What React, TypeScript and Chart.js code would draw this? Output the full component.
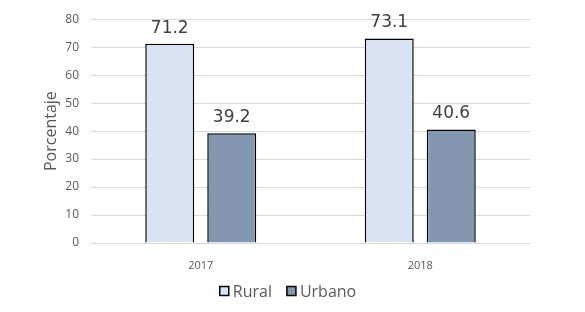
import React, { useEffect, useRef } from "react";
import { Chart, registerables } from "chart.js";

Chart.register(...registerables);

const categories = ["2017", "2018"];
const ruralValues = [71.2, 73.1];
const urbanoValues = [39.2, 40.6];
const seriesNames = ["Rural", "Urbano"];
const seriesColors = ["#DAE3F3", "#8497B0"];
const yTicks = [0, 10, 20, 30, 40, 50, 60, 70, 80];

const valueLabels = {
  id: "valueLabels",
  afterDatasetsDraw(chart: any) {
    const ctx = chart.ctx;
    ctx.save();
    ctx.font = "17px 'DejaVu Sans'";
    ctx.fillStyle = "#404040";
    ctx.textAlign = "center";
    ctx.textBaseline = "bottom";
    chart.data.datasets.forEach((ds: any, i: number) => {
      const meta = chart.getDatasetMeta(i);
      meta.data.forEach((bar: any, j: number) => {
        ctx.fillText(ds.data[j].toFixed(1), bar.x, bar.y - 7);
      });
    });
    ctx.restore();
  },
};

const customLegend = {
  id: "customLegend",
  afterDraw(chart: any) {
    const ctx = chart.ctx;
    ctx.save();
    ctx.font = "16px 'Open Sans'";
    ctx.textBaseline = "middle";
    ctx.textAlign = "left";
    const box = 9;
    const gapText = 4;
    const gapItem = 15;
    const ds = chart.data.datasets;
    const widths = ds.map((d: any) => box + gapText + ctx.measureText(d.label).width);
    const total = widths.reduce((a: number, b: number) => a + b, 0) + gapItem * (ds.length - 1);
    let x = 288 - total / 2;
    const cy = 291;
    ds.forEach((d: any, i: number) => {
      ctx.fillStyle = d.backgroundColor;
      ctx.fillRect(x, cy - box / 2, box, box);
      ctx.strokeStyle = "#000";
      ctx.lineWidth = 1.5;
      ctx.strokeRect(x, cy - box / 2, box, box);
      ctx.fillStyle = "#595959";
      ctx.fillText(d.label, x + box + gapText, cy + 1);
      x += widths[i] + gapItem;
    });
    ctx.restore();
  },
};

export default function App() {
  const ref = useRef<HTMLCanvasElement>(null);
  useEffect(() => {
    document.body.style.margin = "0";
    const common = {
      borderColor: "#000000",
      borderWidth: 1.5,
      barPercentage: 0.79,
      categoryPercentage: 0.565,
    };
    const chart = new Chart(ref.current!, {
      type: "bar",
      data: {
        labels: categories,
        datasets: [
          { label: seriesNames[0], data: ruralValues, backgroundColor: seriesColors[0], ...common },
          { label: seriesNames[1], data: urbanoValues, backgroundColor: seriesColors[1], ...common },
        ],
      },
      options: {
        animation: false,
        responsive: false,
        layout: { padding: { left: 0, right: 55, top: 9.8, bottom: 39 } },
        plugins: {
          legend: { display: false },
          tooltip: { enabled: false },
        },
        scales: {
          x: {
            grid: { display: false },
            border: { display: false },
            ticks: { font: { family: "'Open Sans'", size: 11 }, color: "#595959", padding: 8 },
            afterFit: (s: any) => { s.height = 30; },
          },
          y: {
            min: 0,
            max: 80,
            afterBuildTicks: (s: any) => { s.ticks = yTicks.map((v) => ({ value: v })); },
            grid: { color: "#d9d9d9", lineWidth: 1, drawTicks: false },
            border: { display: false },
            ticks: { font: { family: "'Open Sans'", size: 12 }, color: "#595959", padding: 12 },
            title: {
              display: true,
              text: "Porcentaje",
              font: { family: "'Open Sans'", size: 16 },
              color: "#595959",
              padding: { top: 42, bottom: 0 },
            },
            afterFit: (s: any) => { s.width = 91; },
          },
        },
      },
      plugins: [valueLabels, customLegend],
    });
    return () => chart.destroy();
  }, []);
  return <canvas ref={ref} width={585} height={312} style={{ display: "block" }} />;
}
